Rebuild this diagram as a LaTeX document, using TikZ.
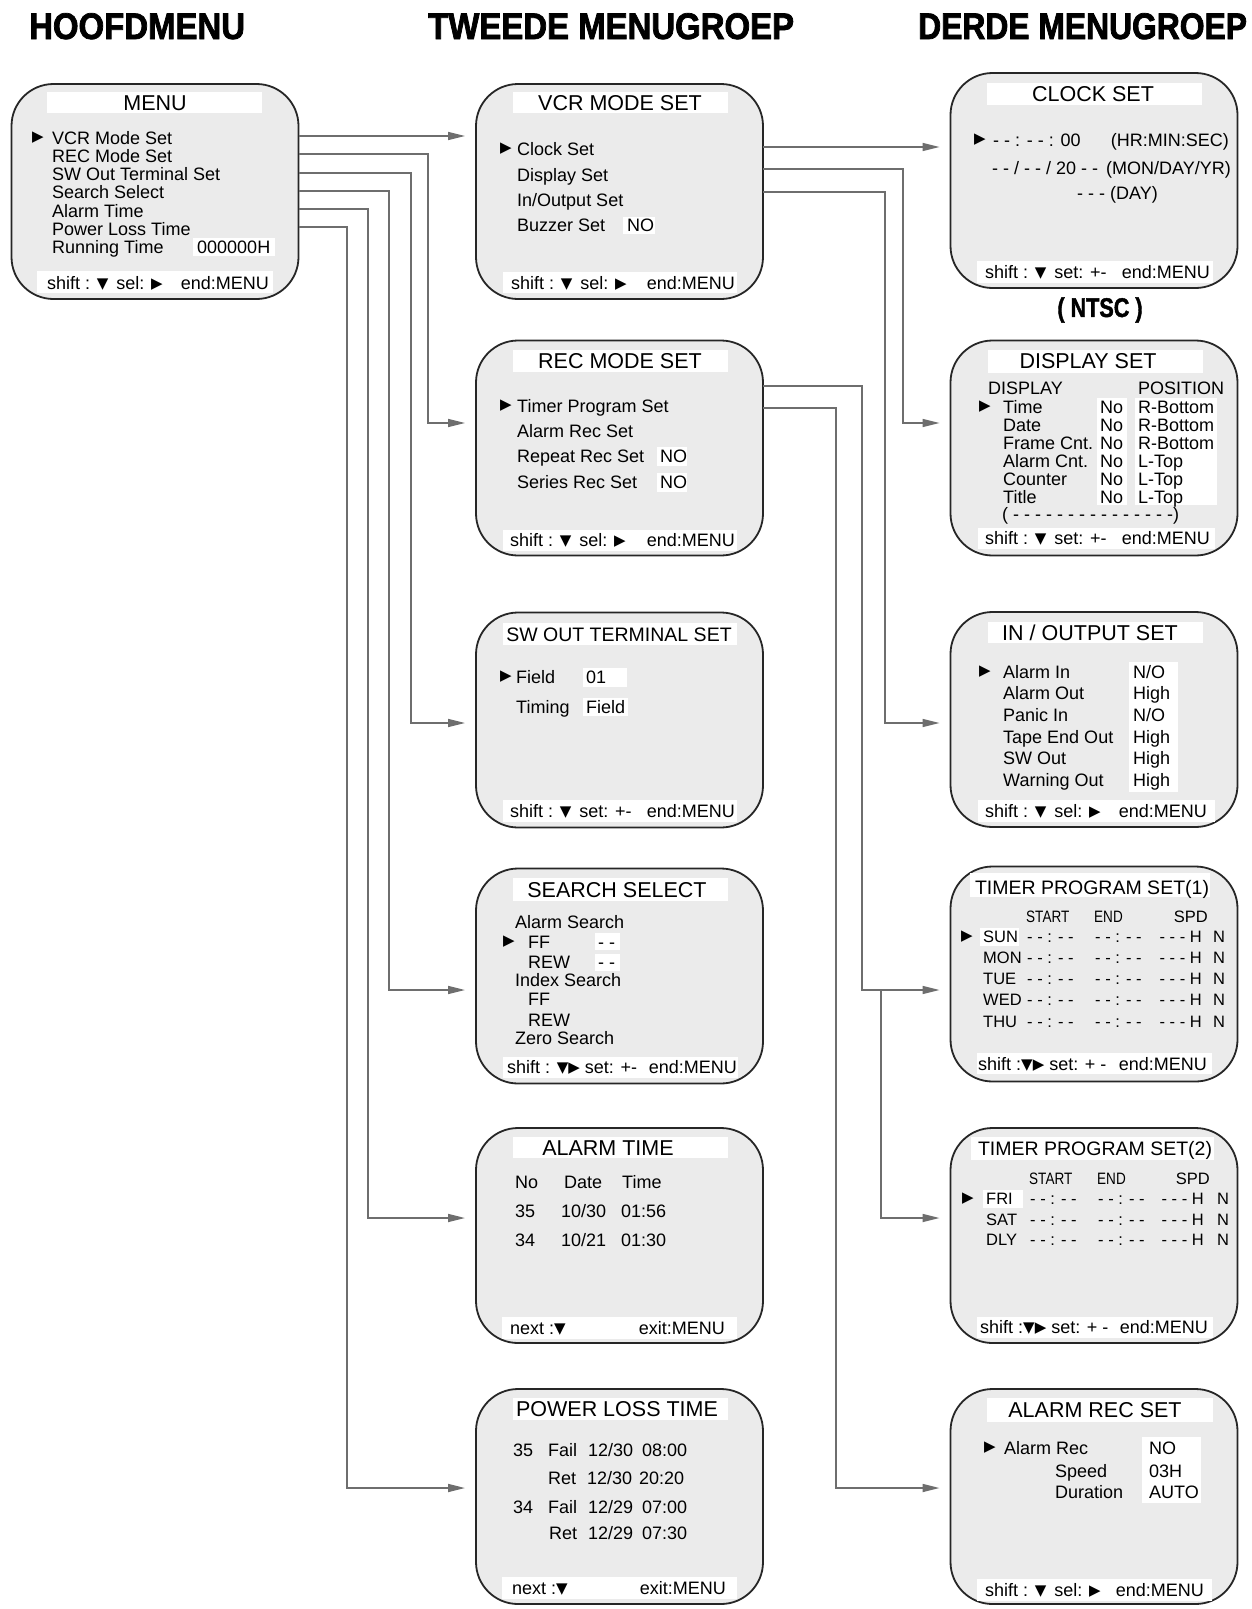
\documentclass[tikz,border=0pt]{standalone}
\usepackage{fontspec}
\setmainfont{Liberation Sans}
\newfontfamily\narrowf[FakeStretch=0.82]{Liberation Sans}
\newfontfamily\symf{DejaVu Sans}
\newfontfamily\headf[FakeStretch=0.89,BoldFeatures={FakeBold=2}]{Liberation Sans}
\newfontfamily\headnf[FakeStretch=0.86,BoldFeatures={FakeBold=2}]{Liberation Sans}
\newfontfamily\ntscf[FakeStretch=0.8,BoldFeatures={FakeBold=1.5}]{Liberation Sans}
\usetikzlibrary{arrows.meta}
\definecolor{boxfill}{HTML}{EBEBEB}
\definecolor{boxline}{HTML}{262626}
\definecolor{conncol}{HTML}{6E6E6E}
\newcommand\bodyf{\fontsize{18}{20}\selectfont}
\newcommand\ttlf{\fontsize{21.5}{24}\selectfont}
\newcommand\ttlsf{\fontsize{19.5}{22}\selectfont}
\newcommand\smf{\fontsize{16.5}{18}\selectfont}
\newcommand\rtri{\raisebox{0.8pt}{\symf\fontsize{15}{15}\selectfont ▶}}
\newcommand\dtri{\raisebox{0.8pt}{\symf\fontsize{15}{15}\selectfont ▼}}
\begin{document}
\begin{tikzpicture}[x=1pt,y=-1pt,
  screen/.style={draw=boxline, fill=boxfill, line width=1.8pt, rounded corners=42pt,
    minimum width=287pt, minimum height=215pt, inner sep=0pt, outer sep=0pt},
  tx/.style={inner sep=0pt, anchor=west, text height=12.9pt, text depth=0pt, font=\bodyf},
  txe/.style={tx, anchor=east},
  ttl/.style={inner sep=0pt, anchor=center, text height=15.4pt, text depth=0pt, font=\ttlf},
  ttls/.style={ttl, text height=14pt, font=\ttlsf},
  ts/.style={tx, font=\smf, text height=11.8pt},
  tse/.style={ts, anchor=east},
  tn/.style={ts, font=\narrowf\smf},
  hd/.style={inner sep=0pt, anchor=base west, font=\headf\bfseries\fontsize{37}{40}\selectfont},
  hdn/.style={hd, font=\headnf\bfseries\fontsize{37}{40}\selectfont},
  ptr/.style={inner sep=0pt, anchor=center, font=\symf\fontsize{15}{15}\selectfont},
  conn/.style={draw=conncol, line width=1.6pt, -{Triangle[length=17pt,width=8pt]}, shorten >=11pt}
]
\useasboundingbox (0,0) rectangle (1251,1609);
\fill[white] (0,0) rectangle (1251,1609);

% headings
\node[hd] (h1) at (29,39) {HOOFDMENU};
\node[hd] (h2) at (428,39) {TWEEDE MENUGROEP};
\node[hdn] (h3) at (918,39) {DERDE MENUGROEP};

% ---------------- screens
\node[screen] (menu)  at (155,191.5) {};
\node[screen] (vcr)   at (619.5,191.5) {};
\node[screen] (rec)   at (619.5,448) {};
\node[screen] (sw)    at (619.5,720) {};
\node[screen] (srch)  at (619.5,976) {};
\node[screen] (atime) at (619.5,1235.5) {};
\node[screen] (ploss) at (619.5,1496.5) {};
\node[screen] (clock) at (1094,180.5) {};
\node[screen] (disp)  at (1094,448) {};
\node[screen] (io)    at (1094,719.5) {};
\node[screen] (tp1)   at (1094,974) {};
\node[screen] (tp2)   at (1094,1235.5) {};
\node[screen] (arec)  at (1094,1496.5) {};

% ---------------- MENU
\fill[white] (47,92) rectangle (262,113);
\node[ttl] (mt) at (155,103) {MENU};
\node[ptr] (mp) at (38,138) {▶};
\node[tx] (m1) at (52,138) {VCR Mode Set};
\node[tx] (m2) at (52,156) {REC Mode Set};
\node[tx] (m3) at (52,174) {SW Out Terminal Set};
\node[tx] (m4) at (52,192) {Search Select};
\node[tx] (m5) at (52,211) {Alarm Time};
\node[tx] (m6) at (52,229) {Power Loss Time};
\node[tx] (m7) at (52,247) {Running Time};
\fill[white] (193,238) rectangle (275,256);
\node[tx] (m8) at (197,247) {000000H};
\fill[white] (37,271) rectangle (273,293);
\node[tx] (mf1) at (47,283) {shift : \dtri\hspace{8pt}sel: \rtri};
\node[txe] (mf2) at (269,283) {end:MENU};

% ---------------- VCR MODE SET
\fill[white] (513,92) rectangle (728,113);
\node[ttl] (vt) at (620,103) {VCR MODE SET};
\node[ptr] (vp) at (506,149) {▶};
\node[tx] (v1) at (517,149) {Clock Set};
\node[tx] (v2) at (517,175) {Display Set};
\node[tx] (v3) at (517,200) {In/Output Set};
\node[tx] (v4) at (517,225) {Buzzer Set};
\fill[white] (623,217) rectangle (655,234);
\node[tx] (v5) at (627,225) {NO};
\fill[white] (503,272) rectangle (737,293);
\node[tx] (vf1) at (511,283) {shift : \dtri\hspace{8pt}sel: \rtri};
\node[txe] (vf2) at (735,283) {end:MENU};

% ---------------- REC MODE SET
\fill[white] (513,350) rectangle (728,372);
\node[ttl] (rt) at (620,361) {REC MODE SET};
\node[ptr] (rp) at (506,406) {▶};
\node[tx] (r1) at (517,406) {Timer Program Set};
\node[tx] (r2) at (517,431) {Alarm Rec Set};
\node[tx] (r3) at (517,456) {Repeat Rec Set};
\node[tx] (r4) at (517,482) {Series Rec Set};
\fill[white] (657,447) rectangle (687,466);
\fill[white] (657,473) rectangle (687,492);
\node[tx] (r5) at (660,456) {NO};
\node[tx] (r6) at (660,482) {NO};
\fill[white] (503,530) rectangle (737,551);
\node[tx] (rf1) at (510,540) {shift : \dtri\hspace{8pt}sel: \rtri};
\node[txe] (rf2) at (735,540) {end:MENU};

% ---------------- SW OUT TERMINAL SET
\fill[white] (503,623) rectangle (737,645);
\node[ttls] (st) at (619,634) {SW OUT TERMINAL SET};
\node[ptr] (sp) at (506,677) {▶};
\node[tx] (s1) at (516,677) {Field};
\node[tx] (s2) at (516,707) {Timing};
\fill[white] (583,668) rectangle (627,687);
\fill[white] (583,698) rectangle (628,716);
\node[tx] (s3) at (586,677) {01};
\node[tx] (s4) at (586,707) {Field};
\fill[white] (503,800) rectangle (737,822);
\node[tx] (sf1) at (510,811) {shift : \dtri\hspace{8pt}set: +-};
\node[txe] (sf2) at (735,811) {end:MENU};

% ---------------- SEARCH SELECT
\fill[white] (513,878) rectangle (728,901);
\node[ttl] (qt) at (617,890) {SEARCH SELECT};
\node[tx] (q1) at (515,922) {Alarm Search};
\node[ptr] (qp) at (509,942) {▶};
\node[tx] (q2) at (528,942) {FF};
\fill[white] (595,933) rectangle (620,950);
\node[tx] (q3) at (598,942) {- -};
\node[tx] (q4) at (528,962) {REW};
\fill[white] (595,954) rectangle (620,971);
\node[tx] (q5) at (598,962) {- -};
\node[tx] (q6) at (515,980) {Index Search};
\node[tx] (q7) at (528,999) {FF};
\node[tx] (q8) at (528,1020) {REW};
\node[tx] (q9) at (515,1038) {Zero Search};
\fill[white] (503,1057) rectangle (738,1078);
\node[tx] (qf1) at (507,1067) {shift : \dtri\rtri\ set: +-};
\node[txe] (qf2) at (737,1067) {end:MENU};

% ---------------- ALARM TIME
\fill[white] (513,1137) rectangle (728,1158);
\node[ttl] (at) at (608,1148) {ALARM TIME};
\node[tx] (a1) at (515,1182) {No};
\node[tx] (a2) at (564,1182) {Date};
\node[tx] (a3) at (622,1182) {Time};
\node[tx] (a4) at (515,1211) {35};
\node[tx] (a5) at (561,1211) {10/30};
\node[tx] (a6) at (621,1211) {01:56};
\node[tx] (a7) at (515,1240) {34};
\node[tx] (a8) at (561,1240) {10/21};
\node[tx] (a9) at (621,1240) {01:30};
\fill[white] (502,1317) rectangle (737,1339);
\node[tx] (af1) at (510,1328) {next :\dtri};
\node[txe] (af2) at (725,1328) {exit:MENU};

% ---------------- POWER LOSS TIME
\fill[white] (513,1398) rectangle (728,1420);
\node[ttl] (pt) at (617,1409) {POWER LOSS TIME};
\node[tx] (p1) at (513,1450) {35};
\node[tx] (p2) at (548,1450) {Fail};
\node[tx] (p3) at (588,1450) {12/30};
\node[tx] (p4) at (642,1450) {08:00};
\node[tx] (p5) at (548,1478) {Ret};
\node[tx] (p6) at (587,1478) {12/30};
\node[tx] (p7) at (639,1478) {20:20};
\node[tx] (p8) at (513,1507) {34};
\node[tx] (p9) at (548,1507) {Fail};
\node[tx] (p10) at (588,1507) {12/29};
\node[tx] (p11) at (642,1507) {07:00};
\node[tx] (p12) at (549,1533) {Ret};
\node[tx] (p13) at (588,1533) {12/29};
\node[tx] (p14) at (642,1533) {07:30};
\fill[white] (502,1577) rectangle (737,1599);
\node[tx] (pf1) at (512,1588) {next :\dtri};
\node[txe] (pf2) at (726,1588) {exit:MENU};

% ---------------- CLOCK SET
\fill[white] (987,83) rectangle (1202,105);
\node[ttl] (ct) at (1093,94) {CLOCK SET};
\node[ptr] (cp) at (980,140) {▶};
\node[tx] (c1) at (993,140) {- - : - - : 00};
\node[txe] (c2) at (1229,140) {(HR:MIN:SEC)};
\node[tx] (c3) at (992,168) {- - / - - / 20 - -};
\node[txe] (c4) at (1231,168) {(MON/DAY/YR)};
\node[tx] (c5) at (1077,193) {- - - (DAY)};
\fill[white] (977,261) rectangle (1213,283);
\node[tx] (cf1) at (985,272) {shift : \dtri\hspace{8pt}set: +-};
\node[txe] (cf2) at (1210,272) {end:MENU};
\node[inner sep=0pt, font=\ntscf\bfseries\fontsize{27}{29}\selectfont] (ntsc) at (1100,310) {( NTSC )};

% ---------------- DISPLAY SET
\fill[white] (988,350) rectangle (1203,373);
\node[ttl] (dt) at (1088,361) {DISPLAY SET};
\node[tx] (d0) at (988,388) {DISPLAY};
\node[tx] (d00) at (1138,388) {POSITION};
\fill[white] (1097,398) rectangle (1127,505);
\fill[white] (1135,398) rectangle (1217,505);
\node[ptr] (dp) at (985,407) {▶};
\node[tx] (d1) at (1003,407) {Time};
\node[tx] (d2) at (1003,425) {Date};
\node[tx] (d3) at (1003,443) {Frame Cnt.};
\node[tx] (d4) at (1003,461) {Alarm Cnt.};
\node[tx] (d5) at (1003,479) {Counter};
\node[tx] (d6) at (1003,497) {Title};
\node[tx] (n1) at (1100,407) {No};
\node[tx] (n2) at (1100,425) {No};
\node[tx] (n3) at (1100,443) {No};
\node[tx] (n4) at (1100,461) {No};
\node[tx] (n5) at (1100,479) {No};
\node[tx] (n6) at (1100,497) {No};
\node[tx] (o1) at (1138,407) {R-Bottom};
\node[tx] (o2) at (1138,425) {R-Bottom};
\node[tx] (o3) at (1138,443) {R-Bottom};
\node[tx] (o4) at (1138,461) {L-Top};
\node[tx] (o5) at (1138,479) {L-Top};
\node[tx] (o6) at (1138,497) {L-Top};
\node[tx] (d7) at (1002,514) {( - - - - - - - - - - - - - - -)};
\fill[white] (978,528) rectangle (1215,549);
\node[tx] (df1) at (985,538) {shift : \dtri\hspace{8pt}set: +-};
\node[txe] (df2) at (1210,538) {end:MENU};

% ---------------- IN / OUTPUT SET
\fill[white] (988,622) rectangle (1203,643);
\node[ttl] (it) at (1090,633) {IN / OUTPUT SET};
\fill[white] (1129,662) rectangle (1178,792);
\node[ptr] (ip) at (985,672) {▶};
\node[tx] (i1) at (1003,672) {Alarm In};
\node[tx] (i2) at (1003,693) {Alarm Out};
\node[tx] (i3) at (1003,715) {Panic In};
\node[tx] (i4) at (1003,737) {Tape End Out};
\node[tx] (i5) at (1003,758) {SW Out};
\node[tx] (i6) at (1003,780) {Warning Out};
\node[tx] (iv1) at (1133,672) {N/O};
\node[tx] (iv2) at (1133,693) {High};
\node[tx] (iv3) at (1133,715) {N/O};
\node[tx] (iv4) at (1133,737) {High};
\node[tx] (iv5) at (1133,758) {High};
\node[tx] (iv6) at (1133,780) {High};
\fill[white] (978,800) rectangle (1215,822);
\node[tx] (if1) at (985,811) {shift : \dtri\hspace{8pt}sel: \rtri};
\node[txe] (if2) at (1207,811) {end:MENU};

% ---------------- TIMER PROGRAM SET(1)
\fill[white] (970,873) rectangle (1210,897);
\node[ttls] (t1t) at (1092,887) {TIMER PROGRAM SET(1)};
\node[tn] (t1h1) at (1026,917) {START};
\node[tn] (t1h2) at (1094,917) {END};
\node[tse] (t1h3) at (1208,917) {SPD};
\node[ptr] (t1p) at (967,937) {▶};
\fill[white] (980,928) rectangle (1019,946);
\foreach \d/\yy [count=\k] in {SUN/937,MON/958,TUE/979,WED/1000,THU/1022}{
  \node[ts] (t1d\k) at (983,\yy) {\d};
  \node[ts] (t1s\k) at (1027,\yy) {- - : - -};
  \node[ts] (t1e\k) at (1095,\yy) {- - : - -};
  \node[tse] (t1v\k) at (1202,\yy) {- - - H};
  \node[ts] (t1n\k) at (1213,\yy) {N};
}
\fill[white] (977,1053) rectangle (1212,1074);
\node[tx] (t1f1) at (978,1064) {shift :\dtri\rtri\ set: + -};
\node[txe] (t1f2) at (1207,1064) {end:MENU};

% ---------------- TIMER PROGRAM SET(2)
\fill[white] (971,1137) rectangle (1214,1160);
\node[ttls] (t2t) at (1095,1148) {TIMER PROGRAM SET(2)};
\node[tn] (t2h1) at (1029,1179) {START};
\node[tn] (t2h2) at (1097,1179) {END};
\node[tse] (t2h3) at (1210,1179) {SPD};
\node[ptr] (t2p) at (968,1199) {▶};
\fill[white] (983,1190) rectangle (1023,1208);
\foreach \d/\yy [count=\k] in {FRI/1199,SAT/1220,DLY/1240}{
  \node[ts] (t2d\k) at (986,\yy) {\d};
  \node[ts] (t2s\k) at (1030,\yy) {- - : - -};
  \node[ts] (t2e\k) at (1098,\yy) {- - : - -};
  \node[tse] (t2v\k) at (1204,\yy) {- - - H};
  \node[ts] (t2n\k) at (1217,\yy) {N};
}
\fill[white] (977,1317) rectangle (1213,1338);
\node[tx] (t2f1) at (980,1327) {shift :\dtri\rtri\ set: + -};
\node[txe] (t2f2) at (1208,1327) {end:MENU};

% ---------------- ALARM REC SET
\fill[white] (987,1398) rectangle (1213,1422);
\node[ttl] (et) at (1095,1410) {ALARM REC SET};
\node[ptr] (ep) at (990,1448) {▶};
\node[tx] (e1) at (1004,1448) {Alarm Rec};
\node[tx] (e2) at (1055,1471) {Speed};
\node[tx] (e3) at (1055,1492) {Duration};
\fill[white] (1142,1437) rectangle (1201,1503);
\node[tx] (e4) at (1149,1448) {NO};
\node[tx] (e5) at (1149,1471) {03H};
\node[tx] (e6) at (1149,1492) {AUTO};
\fill[white] (977,1579) rectangle (1212,1601);
\node[tx] (ef1) at (985,1590) {shift : \dtri\hspace{8pt}sel: \rtri};
\node[txe] (ef2) at (1204,1590) {end:MENU};

% ---------------- connectors
\draw[conn] (menu.east |- 0,136) -- (vcr.west |- 0,136);
\draw[conn] (menu.east |- 0,154) -| (428,423) -- (rec.west |- 0,423);
\draw[conn] (menu.east |- 0,173) -| (411,723) -- (sw.west |- 0,723);
\draw[conn] (menu.east |- 0,191) -| (389,990) -- (srch.west |- 0,990);
\draw[conn] (menu.east |- 0,209) -| (368,1218) -- (atime.west |- 0,1218);
\draw[conn] (menu.east |- 0,227) -| (347,1488) -- (ploss.west |- 0,1488);

\draw[conn] (vcr.east |- 0,147) -- (clock.west |- 0,147);
\draw[conn] (vcr.east |- 0,169) -| (903,423) -- (disp.west |- 0,423);
\draw[conn] (vcr.east |- 0,192) -| (885,723) -- (io.west |- 0,723);

\draw[conn] (rec.east |- 0,386) -| (862,990) -- (tp1.west |- 0,990);
\coordinate (junc) at (881,990);
\draw[conn] (junc) |- (tp2.west |- 0,1218);
\draw[conn] (rec.east |- 0,408) -| (836,1488) -- (arec.west |- 0,1488);
\end{tikzpicture}
\end{document}
